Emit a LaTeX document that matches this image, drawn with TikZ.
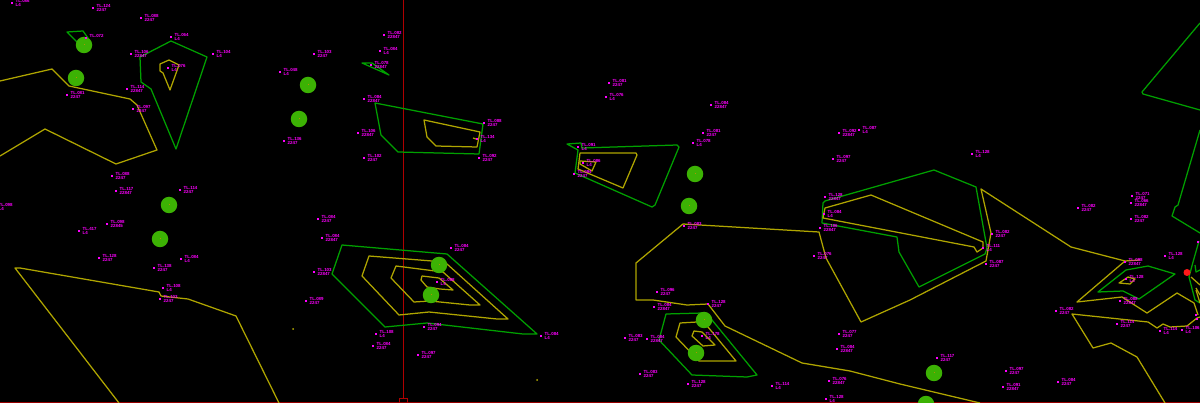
\documentclass[tikz,border=0pt]{standalone}
\usepackage{tikz}
\usepackage{fontspec}
\newfontfamily\lvlfont{Liberation Sans}
\usetikzlibrary{positioning}
\definecolor{contourY}{RGB}{175,165,0}
\definecolor{contourG}{RGB}{0,160,0}
\definecolor{treeG}{RGB}{60,178,4}
\definecolor{levelM}{RGB}{255,0,255}
\definecolor{gridR}{RGB}{175,0,0}
\tikzset{
        % two contour colours, all with the same thin line
        yline/.style={draw=contourY,line width=1.25pt,line join=round},
        gline/.style={draw=contourG,line width=1.25pt,line join=round},
        rline/.style={draw=gridR,line width=1pt},
        tree/.style={circle,fill=treeG,draw=none,minimum size=16.5pt,inner sep=0pt},
        treemid/.style={rectangle,fill=orange!60!treeG,minimum size=1pt,inner sep=0pt},
        lvldot/.style={rectangle,fill=levelM,minimum size=1.4pt,inner sep=0pt},
        lvltext/.style={text=levelM,font=\lvlfont\bfseries\fontsize{4.4}{4}\selectfont,align=left,inner sep=0pt}
}
\begin{document}
\begin{tikzpicture}[x=1pt,y=1pt,yscale=-1]
\useasboundingbox (0,0) rectangle (1200,403);
\clip (0,0) rectangle (1200,403);
\fill[black] (0,0) rectangle (1200,403);

%Red grid lines
\draw [rline] (403,0) -- (403,398) ;
\draw [rline,draw=gridR!85!black,line width=1.4pt] (0,402.5) -- (1200,402.5) ;
\draw [rline] (399.5,398.5) rectangle (407,404) ;

%Contours, top left
\draw [yline] (0,81) -- (52,69) -- (69,86) -- (130,99) -- (137,105) -- (157,150) -- (116,164) -- (45,129) -- (0,156) ;
\draw [gline] (67,32) -- (83,31) -- (88,38) -- (77,42) -- cycle ;
\draw [gline] (140,57) -- (171,41) -- (207,57) -- (176,149) -- (151,89) -- (141,82) -- cycle ;
\draw [yline] (160,64) -- (169,60) -- (179,65) -- (170,90) -- (163,73) -- (160,71) -- cycle ;
%Contour, bottom left
\draw [yline] (119,403) -- (15,268) -- (20,268) -- (159,292) -- (161,296) -- (188,299) -- (236,316) -- (279,403) ;

%Contours, top middle
\draw [gline] (362,63) -- (372,63) -- (389,75) -- cycle ;
\draw [gline] (375,103) -- (483,124) -- (479,154) -- (398,152) -- (381,135) -- cycle ;
\draw [yline] (424,120) -- (480,132) -- (477,147) -- (436,146) -- (427,137) -- cycle ;
\draw [yline] (473,138) -- (476,139) ;

%Contours, bottom middle
\draw [gline] (342,245) -- (447,254) -- (537,334) -- (523,334) -- (427,323) -- (385,327) -- (332,274) -- cycle ;
\draw [yline] (369,256) -- (432,261) -- (447,264) -- (508,319) -- (497,319) -- (429,312) -- (399,315) -- (362,276) -- cycle ;
\draw [yline] (396,266) -- (443,272) -- (480,305) -- (470,305) -- (430,301) -- (414,302) -- (391,278) -- cycle ;
\draw [yline] (422,276) -- (439,278) -- (453,290) -- (440,289) -- (427,287) -- (421,280) -- cycle ;

%Contours, centre
\draw [gline] (567,144) -- (581,143) -- (582,148) -- (677,145) -- (679,147) -- (655,205) -- (652,207) -- (575,173) -- (578,150) -- cycle ;
\draw [yline] (580,153) -- (636,153) -- (637,155) -- (623,188) -- (578,169) -- cycle ;
\draw [yline] (580,161) -- (596,162) -- (592,171) -- (580,164) -- cycle ;

%Long contour through the centre to the right edge
\draw [yline] (708,304) -- (687,305) -- (653,300) -- (636,300) -- (636,263) -- (683,224) -- (819,232) -- (826,258) -- (861,322) -- (910,300) -- (986,261) -- (991,233) -- (981,189) -- (1071,247) -- (1125,261) -- (1140,260) ;
\draw [yline] (1125,261) -- (1077,302) -- (1122,297) -- (1147,313) -- (1177,293) -- (1194,303) -- (1198,315) ;
\draw [yline] (708,304) -- (725,326) -- (802,363) -- (850,371) -- (900,384) -- (980,403) ;

%Contours, lower centre
\draw [gline] (666,314) -- (703,313) -- (712,320) -- (757,375) -- (747,377) -- (692,375) -- (659,340) -- cycle ;
\draw [yline] (680,323) -- (697,322) -- (708,327) -- (736,361) -- (699,361) -- (676,337) -- cycle ;
\draw [yline] (694,331) -- (702,332) -- (715,345) -- (703,346) -- (692,336) -- cycle ;

%Contours, right of centre
\draw [gline] (825,201) -- (934,170) -- (976,187) -- (987,248) -- (985,254) -- (919,287) -- (899,252) -- (897,237) -- (822,223) -- (823,203) -- cycle ;
\draw [yline] (825,208) -- (871,195) -- (983,242) -- (983,248) -- (977,252) -- (974,247) -- (823,218) -- cycle ;

%Contours, right edge
\draw [yline] (1200,317) -- (1197,318) -- (1187,326) -- (1170,327) -- (1163,324) -- (1157,328) -- (1148,322) -- (1072,314) -- (1093,348) -- (1111,343) -- (1137,357) -- (1165,403) ;
\draw [gline] (1098,292) -- (1126,270) -- (1148,266) -- (1175,274) -- (1139,299) -- (1123,291) -- cycle ;
\draw [yline] (1119,283) -- (1128,277) -- (1135,279) -- (1130,284) -- cycle ;
\draw [gline] (1200,23) -- (1142,92) -- (1143,94) -- (1200,110) ;
\draw [gline] (1200,130) -- (1178,205) -- (1175,207) -- (1172,216) -- (1200,233) ;
\draw [gline] (1199,241) -- (1193,262) -- (1189,277) -- (1195,300) -- (1200,303) ;
\draw [gline] (1195,265) -- (1196,272) -- (1200,270) ;
\draw [yline] (1191,277) -- (1200,285) ;
\draw [yline] (1196,288) -- (1200,295) ;
\draw [yline] (1196,290) -- (1200,303) ;

%Stray points
\fill [contourY!90!yellow] (293,329) circle (1) (537,380) circle (1) ;
\fill [red!90!white] (1187,272.5) circle (3.5) ;

%Trees
\foreach \x/\y [count=\i] in {84/45,76/78,308/85,299/119,169/205,160/239,439/265,431/295,695/174,689/206,704/320,696/353,934/373,926/404}
{
\node [tree] (tree\i) at (\x,\y) {};
\node [treemid] (mid\i) at (tree\i.center) {};
}

%Level points whose text lies outside the view
\foreach \x/\y [count=\i] in {1198/242,1196/315,1197/319}
\node [lvldot] (edge\i) at (\x,\y) {};

% Text Nodes
\foreach \x/\y/\ta/\tb [count=\i] in {
12/3/TL.086/L4, 93/8/TL.124/2247, 141/18/TL.088/2247, 171/37/TL.064/L4, 131/54/TL.106/22847, 213/54/TL.104/L4,
168/68/TL.076/L4, 280/72/TL.048/L4, 127/89/TL.114/22847, 67/95/TL.081/2247, 133/109/TL.097/2247, 86/38/TL.072/{},
284/141/TL.136/2247, 112/176/TL.088/2247, 116/191/TL.117/22847, 180/190/TL.114/2247, 107/224/TL.098/22845, 79/231/TL.417/L4,
99/258/TL.128/2247, 154/268/TL.138/2247, 181/259/TL.084/L4, 163/288/TL.108/L4, 160/299/TL.103/2247, -5/207/TL.098/L4,
384/35/TL.082/22847, 380/51/TL.084/L4, 314/54/TL.103/2247, 371/65/TL.078/22847, 364/99/TL.084/22847, 358/133/TL.106/22847,
364/158/TL.102/2247, 484/123/TL.088/2247, 477/139/TL.134/L4, 479/158/TL.092/2247, 578/147/TL.091/L4, 583/163/TL.086/L4,
574/174/TL.094/2247, 609/83/TL.081/2247, 606/97/TL.076/L4, 711/105/TL.084/22847, 703/133/TL.081/2247, 693/143/TL.078/L4,
839/133/TL.092/22847, 859/130/TL.087/L4, 833/159/TL.097/2247, 972/154/TL.128/L4, 825/197/TL.128/22847, 824/214/TL.084/L4,
820/228/TL.106/22847, 814/256/TL.076/2247, 992/234/TL.082/2247, 983/248/TL.111/L4, 986/264/TL.087/2247, 1078/208/TL.082/2247,
1132/196/TL.071/2247, 1131/203/TL.066/22847, 1131/219/TL.082/2247, 1165/256/TL.128/L4, 1125/262/TL.098/22847, 1126/279/TL.128/L4,
1120/301/TL.088/22847, 1056/311/TL.082/2247, 1117/324/TL.114/2247, 1160/331/TL.114/L4, 1182/330/TL.106/L4, 1058/382/TL.084/2247,
937/358/TL.117/2247, 1006/371/TL.097/2247, 1003/387/TL.091/22847, 684/226/TL.083/2247, 657/292/TL.096/2247, 654/307/TL.084/22847,
708/304/TL.128/2247, 702/336/TL.178/L4, 625/338/TL.083/2247, 647/339/TL.084/22847, 640/374/TL.083/2247, 688/384/TL.128/2247,
772/386/TL.114/L4, 839/334/TL.077/2247, 837/349/TL.084/22847, 829/381/TL.076/22847, 826/399/TL.128/L4, 318/219/TL.084/2247,
322/238/TL.084/22847, 314/272/TL.103/22847, 306/301/TL.089/2247, 451/248/TL.084/2247, 437/282/TL.088/L4, 376/334/TL.108/L4,
373/346/TL.084/2247, 424/327/TL.094/2247, 418/355/TL.097/2247, 541/336/TL.084/L4}
{
\node [lvldot] (dot\i) at (\x,\y) {};
\node [lvltext,right=2.6pt of dot\i,yshift=-0.3pt] (lvl\i) {\ta\\\tb};
}

\end{tikzpicture}
\end{document}
